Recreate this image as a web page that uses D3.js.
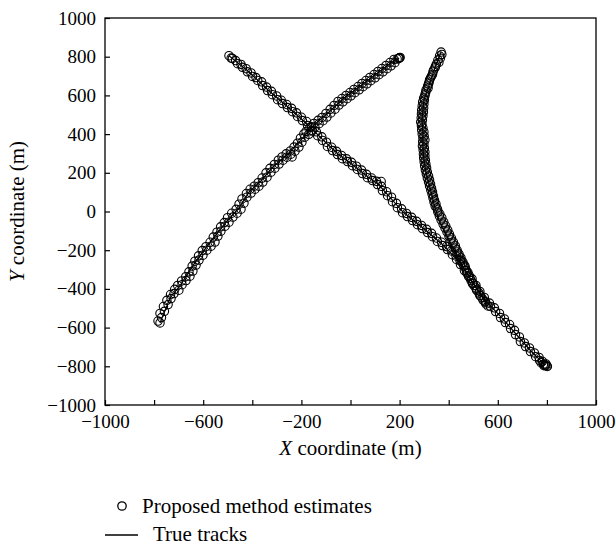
<!DOCTYPE html>
<html>
<head>
  <meta charset="UTF-8">
  <title>Tracks</title>
  <script src="https://d3js.org/d3.v7.min.js"></script>
  <style>
    body { margin: 0; background: #fff; }
    svg text { font-family: "Times New Roman", "Liberation Serif", "DejaVu Serif", serif !important; fill: #000; }
  </style>
</head>
<body>
  <div id="chart"></div>

  <script>
    // tick values
    const xTicks = [-1000, -800, -600, -400, -200, 0, 200, 400, 600, 800, 1000];
    const xLabels = [-1000, -600, -200, 200, 600, 1000];
    const yTicks = [-1000, -800, -600, -400, -200, 0, 200, 400, 600, 800, 1000];

    // true tracks
    const track1True = [[-495,805],[-418,726],[-336,628],[-255,540],[-173,447],[-112,370],[-51,297],[10,240],[71,178],[112,142],[153,85],[214,-3],[295,-85],[377,-173],[450,-271],[499,-370],[552,-463],[613,-545],[674,-633],[735,-721],[792,-793]];
    const track2True = [[-776,-576],[-735,-447],[-690,-375],[-637,-271],[-593,-194],[-548,-121],[-503,-49],[-454,18],[-413,101],[-365,158],[-316,230],[-251,302],[-206,364],[-145,452],[-96,504],[-31,581],[35,643],[100,705],[165,767],[198,793]];
    const track3True = [[369,824],[344,742],[316,638],[299,576],[291,473],[295,411],[295,328],[299,266],[307,204],[324,121],[340,39],[360,-44],[393,-127],[426,-209],[450,-271],[474,-318],[511,-395],[560,-488]];

    // estimates
    const track1Est = [[-495,805],[-486,793],[-481,791],[-468,780],[-460,764],[-446,760],[-440,745],[-425,738],[-420,722],[-405,716],[-399,698],[-385,692],[-378,677],[-362,670],[-358,651],[-342,643],[-338,625],[-322,621],[-318,604],[-301,597],[-297,578],[-282,575],[-277,558],[-260,553],[-257,537],[-240,533],[-236,516],[-220,510],[-216,491],[-200,487],[-196,470],[-179,465],[-175,444],[-158,438],[-155,418],[-139,412],[-134,392],[-117,386],[-114,367],[-98,358],[-94,336],[-77,332],[-73,315],[-57,311],[-53,294],[-37,290],[-33,273],[-16,272],[-12,258],[4,254],[8,237],[24,234],[28,217],[45,214],[49,196],[65,192],[69,175],[86,173],[90,160],[106,156],[110,139],[125,155],[126,130],[130,108],[147,102],[151,82],[167,74],[171,51],[187,42],[191,20],[208,14],[212,-6],[228,-10],[232,-26],[249,-30],[253,-47],[269,-51],[273,-68],[289,-72],[293,-88],[310,-92],[314,-109],[330,-113],[334,-130],[350,-137],[354,-155],[371,-159],[375,-176],[391,-181],[395,-197],[411,-204],[415,-223],[430,-230],[432,-248],[446,-255],[448,-274],[462,-283],[464,-305],[478,-314],[481,-336],[495,-348],[497,-373],[511,-382],[513,-404],[527,-413],[529,-435],[545,-444],[550,-466],[566,-473],[570,-491],[586,-498],[591,-517],[607,-527],[611,-548],[627,-555],[631,-574],[648,-584],[652,-605],[668,-614],[672,-636],[688,-648],[692,-672],[708,-679],[713,-698],[729,-705],[733,-724],[749,-731],[754,-750],[768,-754],[770,-770],[782,-775],[776,-781],[786,-790],[792,-793],[800,-798],[788,-797],[796,-788],[802,-801],[795,-796]];
    const track2Est = [[-776,-576],[-784,-566],[-770,-548],[-776,-527],[-758,-516],[-762,-491],[-743,-481],[-748,-459],[-731,-450],[-733,-429],[-719,-424],[-716,-402],[-699,-407],[-704,-382],[-686,-378],[-688,-359],[-670,-357],[-671,-337],[-654,-334],[-658,-312],[-642,-308],[-645,-282],[-629,-277],[-634,-257],[-617,-251],[-619,-229],[-601,-226],[-604,-202],[-585,-200],[-589,-182],[-568,-179],[-572,-159],[-552,-158],[-559,-132],[-540,-127],[-544,-107],[-528,-102],[-529,-79],[-511,-76],[-514,-57],[-495,-55],[-501,-32],[-479,-29],[-484,-9],[-462,-9],[-466,11],[-446,12],[-454,38],[-434,43],[-442,65],[-422,74],[-424,93],[-405,95],[-409,115],[-389,115],[-392,131],[-373,131],[-376,149],[-357,152],[-360,173],[-340,177],[-344,200],[-324,203],[-328,223],[-308,224],[-310,243],[-291,245],[-294,265],[-275,265],[-279,282],[-259,281],[-262,298],[-238,282],[-243,296],[-245,313],[-226,312],[-230,333],[-210,333],[-216,353],[-198,358],[-204,379],[-186,384],[-190,401],[-170,399],[-181,414],[-161,416],[-165,435],[-145,436],[-149,455],[-128,454],[-132,471],[-112,469],[-116,486],[-96,488],[-100,507],[-80,509],[-83,528],[-63,529],[-67,548],[-47,550],[-51,569],[-31,567],[-35,584],[-14,583],[-18,600],[2,598],[-2,615],[18,614],[14,631],[35,629],[31,646],[51,645],[47,662],[67,660],[63,677],[83,676],[79,693],[100,691],[96,708],[116,707],[112,724],[132,722],[128,739],[149,738],[145,755],[165,753],[161,770],[181,769],[177,786],[190,788],[198,793],[202,796],[196,791],[200,794]];
    const track3Est = [[369,824],[372,812],[363,804],[366,792],[356,783],[360,770],[350,762],[346,750],[344,742],[338,730],[336,721],[334,708],[330,700],[326,690],[322,680],[320,668],[318,659],[314,648],[316,638],[308,628],[307,618],[304,607],[303,597],[298,586],[301,576],[294,566],[299,556],[292,545],[298,535],[290,524],[297,514],[289,504],[295,494],[288,484],[293,473],[286,462],[291,452],[289,442],[295,432],[290,421],[299,411],[292,400],[300,390],[295,380],[303,370],[294,360],[299,349],[293,338],[301,328],[296,318],[303,307],[297,297],[303,287],[298,276],[305,266],[300,256],[307,245],[302,235],[310,225],[305,214],[313,204],[309,194],[318,183],[313,173],[322,163],[318,152],[326,142],[322,132],[330,121],[327,111],[334,101],[332,90],[338,80],[336,70],[342,59],[340,49],[348,39],[345,28],[352,18],[355,8],[356,-3],[364,-13],[362,-23],[372,-33],[369,-44],[380,-55],[377,-65],[388,-75],[385,-85],[396,-96],[393,-106],[403,-117],[401,-127],[411,-137],[409,-147],[419,-158],[417,-168],[427,-178],[426,-189],[434,-199],[434,-209],[442,-220],[442,-230],[450,-240],[450,-251],[458,-262],[458,-271],[466,-281],[468,-292],[472,-305],[474,-318],[483,-330],[487,-344],[491,-357],[499,-370],[503,-383],[511,-395],[515,-408],[523,-421],[527,-434],[536,-447],[540,-458],[548,-468],[552,-478],[560,-488]];

    const trueTracks = [track1True, track2True, track3True];
    const estimates = [track1Est, track2Est, track3Est];

    const W = 616, H = 545;
    const margin = { left: 105, right: 596, top: 18, bottom: 405 };
    const serif = '"Times New Roman", "Liberation Serif", serif';

    const svg = d3.select("#chart").append("svg")
      .attr("width", W)
      .attr("height", H);

    const x = d3.scaleLinear().domain([-1000, 1000]).range([margin.left, margin.right]);
    const y = d3.scaleLinear().domain([-1000, 1000]).range([margin.bottom, margin.top]);
    const fmt = d3.format("d");

    // x axis (ticks point inward)
    const xAxis = svg.append("g")
      .attr("transform", "translate(0," + margin.bottom + ")")
      .call(d3.axisBottom(x).tickValues(xTicks).tickSize(-5).tickPadding(10)
        .tickFormat(d => xLabels.includes(d) ? fmt(d) : ""));
    xAxis.attr("font-family", serif).attr("font-size", 19);
    xAxis.select(".domain").remove();
    xAxis.selectAll("line").attr("stroke", "#000").attr("stroke-width", 1.2);

    const yAxis = svg.append("g")
      .attr("transform", "translate(" + margin.left + ",0)")
      .call(d3.axisLeft(y).tickValues(yTicks).tickSize(-5).tickPadding(9).tickFormat(fmt));
    yAxis.attr("font-family", serif).attr("font-size", 19);
    yAxis.select(".domain").remove();
    yAxis.selectAll("line").attr("stroke", "#000").attr("stroke-width", 1.2);

    // frame
    svg.append("rect")
      .attr("x", margin.left).attr("y", margin.top)
      .attr("width", margin.right - margin.left).attr("height", margin.bottom - margin.top)
      .attr("fill", "none").attr("stroke", "#000").attr("stroke-width", 1.3);

    // true tracks
    const line = d3.line().x(d => x(d[0])).y(d => y(d[1]));
    svg.selectAll(".track")
      .data(trueTracks)
      .enter().append("path")
      .attr("class", "track")
      .attr("d", line)
      .attr("fill", "none")
      .attr("stroke", "#000")
      .attr("stroke-width", 1.2);

    // estimates
    estimates.forEach(function(est) {
      svg.append("g").selectAll("circle")
        .data(est)
        .enter().append("circle")
        .attr("cx", d => x(d[0]))
        .attr("cy", d => y(d[1]))
        .attr("r", 4.2)
        .attr("fill", "none")
        .attr("stroke", "#000")
        .attr("stroke-width", 1.1);
    });

    // axis titles
    const xt = svg.append("text")
      .attr("x", (margin.left + margin.right) / 2)
      .attr("y", 455)
      .attr("text-anchor", "middle")
      .style("font-size", "21px");
    xt.append("tspan").style("font-style", "italic").text("X");
    xt.append("tspan").text(" coordinate (m)");

    const yt = svg.append("text")
      .attr("transform", "translate(24," + ((margin.top + margin.bottom) / 2) + ") rotate(-90)")
      .attr("text-anchor", "middle")
      .style("font-size", "21px");
    yt.append("tspan").style("font-style", "italic").text("Y");
    yt.append("tspan").text(" coordinate (m)");

    // legend
    svg.append("circle")
      .attr("cx", 122).attr("cy", 506).attr("r", 4.2)
      .attr("fill", "none").attr("stroke", "#000").attr("stroke-width", 1.3);
    svg.append("text")
      .attr("x", 142).attr("y", 513)
      .style("font-size", "21px")
      .text("Proposed method estimates");

    svg.append("line")
      .attr("x1", 105).attr("x2", 138).attr("y1", 535).attr("y2", 535)
      .attr("stroke", "#000").attr("stroke-width", 1.3);
    svg.append("text")
      .attr("x", 153).attr("y", 541)
      .style("font-size", "21px")
      .text("True tracks");
  </script>
</body>
</html>
